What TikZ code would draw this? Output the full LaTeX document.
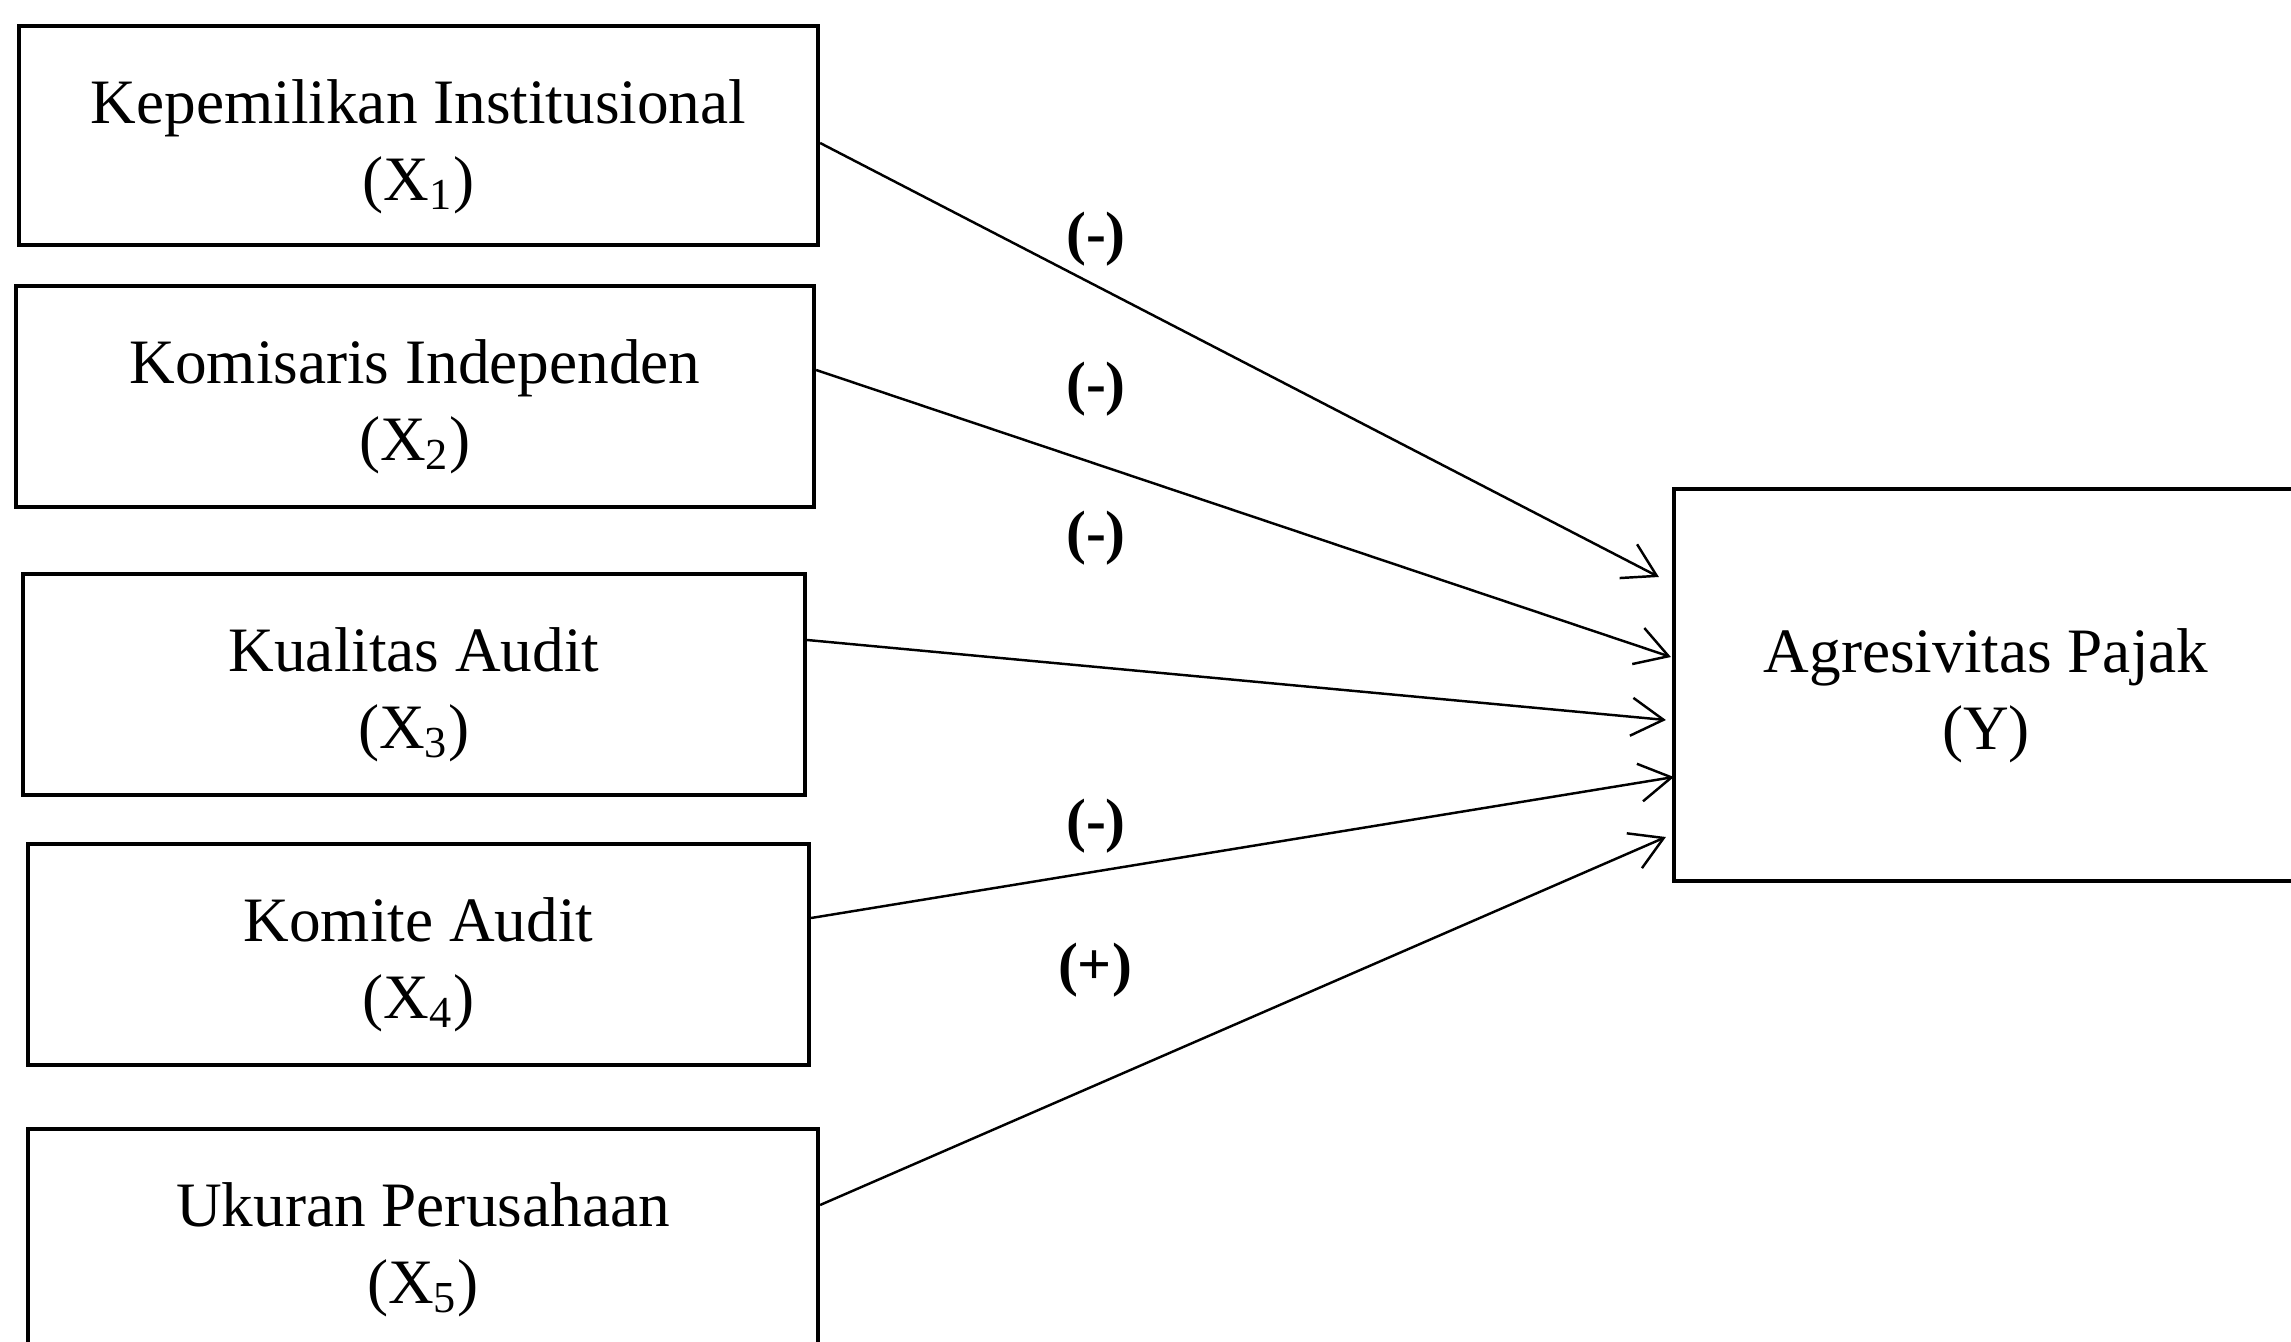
\documentclass[tikz,border=0pt]{standalone}
\usepackage{fontspec}
\setmainfont{Liberation Serif}
\usetikzlibrary{arrows.meta,calc}
\begin{document}
\begin{tikzpicture}[x=0.1mm,y=-0.1mm,
  varbox/.style={draw, line width=1.2pt, rectangle, inner sep=0pt},
  boxtext/.style={align=center, inner sep=0pt, font=\fontsize{18}{21.8}\selectfont},
  link/.style={line width=0.7pt, -{Straight Barb[length=3.2mm,width=3.8mm,line width=0.7pt]}},
  sign/.style={font=\fontsize{17}{20}\selectfont\bfseries, inner sep=0pt}]
\useasboundingbox (0,0) rectangle (2291,1342);
\fill[white] (0,0) rectangle (2291,1342);

\node[varbox, minimum width=79.9mm, minimum height=21.9mm] (b1) at (418.5,135.5) {};
\node[varbox, minimum width=79.8mm, minimum height=22.1mm] (b2) at (415,396.5) {};
\node[varbox, minimum width=78.2mm, minimum height=22.1mm] (b3) at (414,684.5) {};
\node[varbox, minimum width=78.1mm, minimum height=22.1mm] (b4) at (418.5,954.5) {};
\node[varbox, minimum width=79.0mm, minimum height=22.1mm] (b5) at (423,1239.5) {};
\node[varbox, minimum width=62.4mm, minimum height=39.2mm] (Y) at (1986,685) {};

\node[boxtext] (t1) at ($(b1.center)+(0,11)$) {Kepemilikan Institusional\\(X\textsubscript{1})};
\node[boxtext] (t2) at ($(b2.center)+(0,10)$) {Komisaris Independen\\(X\textsubscript{2})};
\node[boxtext] (t3) at ($(b3.center)+(0,10)$) {Kualitas Audit\\(X\textsubscript{3})};
\node[boxtext] (t4) at ($(b4.center)+(0,10)$) {Komite Audit\\(X\textsubscript{4})};
\node[boxtext] (t5) at ($(b5.center)+(0,10)$) {Ukuran Perusahaan\\(X\textsubscript{5})};
\node[boxtext] (tY) at ($(Y.center)+(0,11)$) {Agresivitas Pajak\\(Y)};

\draw[link] ($(b1.east)+(0,7.5)$) -- ($(Y.west)+(-13,-108)$);
\draw[link] ($(b2.east)+(0,-26.5)$) -- ($(Y.west)+(-1,-28)$);
\draw[link] ($(b3.east)+(0,-44.5)$) -- ($(Y.west)+(-6,35)$);
\draw[link] ($(b4.east)+(0,-36.5)$) -- ($(Y.west)+(2,92)$);
\draw[link] ($(b5.east)+(0,-34.5)$) -- ($(Y.west)+(-6,152)$);

\node[sign] (s1) at (1096,239) {(-)};
\node[sign] (s2) at (1096,389) {(-)};
\node[sign] (s3) at (1096,538) {(-)};
\node[sign] (s4) at (1096,826) {(-)};
\node[sign] (s5) at (1095,970) {(+)};
\end{tikzpicture}
\end{document}
